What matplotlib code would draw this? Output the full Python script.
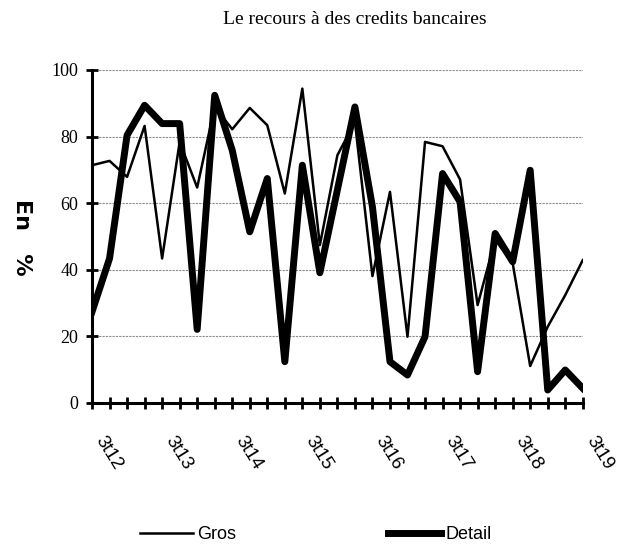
import numpy as np
import matplotlib
matplotlib.use("Agg")
import matplotlib.pyplot as plt
from matplotlib.transforms import ScaledTranslation

# quarterly observations, 3t12 .. 3t19
quarters = [f"{q}t{y}" for y in range(12, 20) for q in (3, 4, 1, 2)][:29]
tick_labels = ["3t12", "3t13", "3t14", "3t15", "3t16", "3t17", "3t18", "3t19"]

gros = [71.4, 72.7, 67.9, 83.2, 43.4, 78.4, 64.7, 89.0, 82.2, 88.6,
        83.4, 62.9, 94.4, 47.4, 74.4, 84.4, 38.1, 63.4, 19.9, 78.4,
        77.1, 67.1, 29.4, 49.0, 42.0, 11.1, 22.9, 32.4, 42.9]
detail = [27.4, 43.4, 80.4, 89.4, 83.9, 83.9, 22.1, 92.4, 75.9, 51.4,
          67.4, 12.4, 71.4, 39.1, 64.0, 88.9, 58.9, 12.4, 8.4, 19.9,
          68.9, 60.4, 9.4, 50.9, 42.4, 69.9, 3.9, 9.9, 4.4]

serif = ["Liberation Serif", "DejaVu Serif"]
sans = ["Liberation Sans", "DejaVu Sans"]

fig = plt.figure(figsize=(6.32, 5.45), dpi=100)
ax = fig.add_axes([0.1456, 0.2606, 0.7765, 0.611])

x = np.arange(len(quarters))
ax.plot(x, gros, color="black", lw=1.8, label="Gros", zorder=3)
ax.plot(x, detail, color="black", lw=5, label="Detail", zorder=4)

ax.set_xlim(0, len(quarters) - 1)
ax.set_ylim(0, 100)
ax.set_yticks(np.arange(0, 101, 20))
ax.set_xticks(x)
ax.set_xticklabels([q if q in tick_labels and i % 4 == 0 else "" for i, q in enumerate(quarters)])

for s in ("top", "right"):
    ax.spines[s].set_visible(False)
for s in ("left", "bottom"):
    ax.spines[s].set_linewidth(2.2)

ax.yaxis.grid(True, color="#8a8a8a", linestyle=(0, (2, 1)), lw=0.8)
ax.set_axisbelow(True)

ax.tick_params(axis="both", direction="inout", length=8, width=2, colors="black")
ax.tick_params(axis="x", pad=21)
ax.tick_params(axis="y", pad=6)
for lab in ax.get_yticklabels():
    lab.set_fontfamily(serif)
    lab.set_fontsize(13)

offset = ScaledTranslation(5 / 72, 0, fig.dpi_scale_trans)
for lab in ax.get_xticklabels():
    lab.set_fontfamily(sans)
    lab.set_fontsize(13.5)
    lab.set_rotation(-58)
    lab.set_ha("left")
    lab.set_va("center")
    lab.set_rotation_mode("anchor")
    lab.set_transform(lab.get_transform() + offset)

fig.text(0.562, 0.965, "Le recours à des credits bancaires", ha="center", va="center",
         fontsize=14, family=serif)
fig.text(0.035, 0.565, "En   %", rotation=270, ha="center", va="center",
         fontsize=16, fontweight="bold", family=["DejaVu Sans"])

fig.legend(loc="center", bbox_to_anchor=(0.5, 0.019), ncol=2, frameon=False,
           handlelength=2.95, columnspacing=8.4, handletextpad=0.25,
           prop={"family": sans, "size": 13})

fig.savefig("out.png", dpi=100)
